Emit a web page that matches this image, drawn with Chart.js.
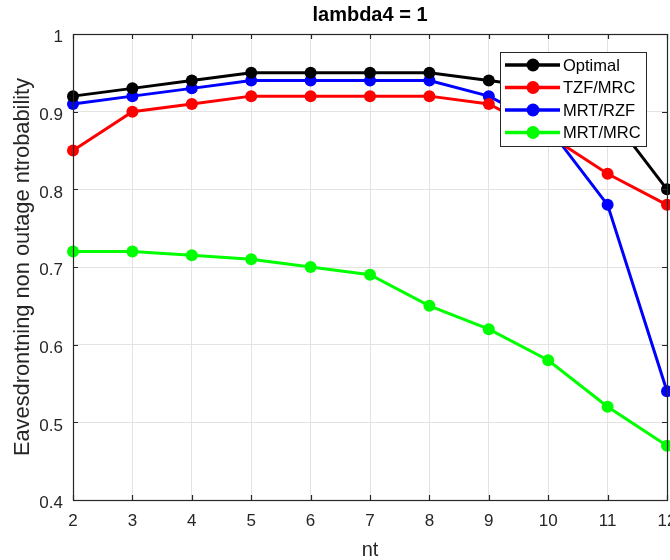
<!DOCTYPE html>
<html>
<head>
<meta charset="utf-8">
<script src="https://cdn.jsdelivr.net/npm/chart.js@4.4.1/dist/chart.umd.min.js"></script>
<style>
html,body{margin:0;padding:0;background:#fff;overflow:hidden;}
#wrap{width:700px;height:560px;position:relative;}
</style>
</head>
<body>
<div id="wrap"><canvas id="c" width="700" height="560"></canvas></div>
<script>
const nt = [2, 3, 4, 5, 6, 7, 8, 9, 10, 11, 12];
const optimal = [0.92, 0.93, 0.94, 0.95, 0.95, 0.95, 0.95, 0.94, 0.93, 0.90, 0.80];
const tzfMrc  = [0.85, 0.90, 0.91, 0.92, 0.92, 0.92, 0.92, 0.91, 0.87, 0.82, 0.78];
const mrtRzf  = [0.91, 0.92, 0.93, 0.94, 0.94, 0.94, 0.94, 0.92, 0.88, 0.78, 0.54];
const mrtMrc  = [0.72, 0.72, 0.715, 0.71, 0.70, 0.69, 0.65, 0.62, 0.58, 0.52, 0.47];
const seriesNames = ['Optimal', 'TZF/MRC', 'MRT/RZF', 'MRT/MRC'];
const seriesColors = ['#000000', '#ff0000', '#0000ff', '#00ff00'];
const yTicks = [0.4, 0.5, 0.6, 0.7, 0.8, 0.9, 1];
const titleText = 'lambda4 = 1';
const xTitle = 'nt';
const yTitle = 'Eavesdrontning non outage ntrobability';

const FONT = '"Liberation Sans", Arial, sans-serif';
const allSeries = [optimal, tzfMrc, mrtRzf, mrtMrc];

const datasets = allSeries.map((vals, i) => ({
  label: seriesNames[i],
  data: vals.map((v, k) => ({x: nt[k], y: v})),
  borderColor: seriesColors[i],
  backgroundColor: seriesColors[i],
  pointBackgroundColor: seriesColors[i],
  pointBorderColor: seriesColors[i],
  pointRadius: 6,
  pointBorderWidth: 0,
  borderWidth: 3,
  tension: 0,
  clip: false
}));

const boxPlugin = {
  id: 'boxPlugin',
  afterDraw(chart) {
    const {ctx, chartArea: a, scales} = chart;
    ctx.save();
    ctx.strokeStyle = '#262626';
    ctx.lineWidth = 1.2;
    const tl = 5;
    ctx.beginPath();
    nt.forEach(v => {
      const x = Math.round(scales.x.getPixelForValue(v)) + 0.5;
      ctx.moveTo(x, a.bottom); ctx.lineTo(x, a.bottom - tl);
      ctx.moveTo(x, a.top); ctx.lineTo(x, a.top + tl);
    });
    yTicks.forEach(v => {
      const y = Math.round(scales.y.getPixelForValue(v)) + 0.5;
      ctx.moveTo(a.left, y); ctx.lineTo(a.left + tl, y);
      ctx.moveTo(a.right, y); ctx.lineTo(a.right - tl, y);
    });
    ctx.stroke();
    ctx.strokeRect(Math.round(a.left) + 0.5, Math.round(a.top) + 0.5,
                   Math.round(a.right - a.left), Math.round(a.bottom - a.top));
    // legend
    const lx = a.right - 167, ly = a.top + 18, lw = 146, lh = 94;
    ctx.fillStyle = '#ffffff';
    ctx.fillRect(lx, ly, lw, lh);
    ctx.strokeStyle = '#262626';
    ctx.lineWidth = 1;
    ctx.strokeRect(lx + 0.5, ly + 0.5, lw, lh);
    const rows = [13, 35.5, 58, 80.5];
    chart.data.datasets.forEach((ds, i) => {
      const y = ly + rows[i];
      ctx.strokeStyle = ds.borderColor;
      ctx.lineWidth = 3.5;
      ctx.beginPath();
      ctx.moveTo(lx + 5, y); ctx.lineTo(lx + 60, y);
      ctx.stroke();
      ctx.fillStyle = ds.borderColor;
      ctx.beginPath();
      ctx.arc(lx + 33, y, 6.5, 0, Math.PI * 2);
      ctx.fill();
      ctx.fillStyle = '#000000';
      ctx.font = '16.5px ' + FONT;
      ctx.textBaseline = 'middle';
      ctx.textAlign = 'left';
      ctx.fillText(ds.label, lx + 63, y + 1);
    });
    ctx.restore();
  }
};

new Chart(document.getElementById('c'), {
  type: 'line',
  data: {datasets},
  plugins: [boxPlugin],
  options: {
    responsive: false,
    animation: false,
    layout: {padding: {left: 0, right: 33, top: 0, bottom: 0}},
    plugins: {
      legend: {display: false},
      tooltip: {enabled: false},
      title: {
        display: true,
        text: titleText,
        fullSize: false,
        color: '#000000',
        font: {family: FONT, size: 20, weight: 'bold', lineHeight: 1.2},
        padding: {top: 3.5, bottom: 6.5}
      }
    },
    scales: {
      x: {
        type: 'linear',
        min: 2, max: 12,
        afterBuildTicks(s) { s.ticks = nt.map(v => ({value: v})); },
        afterFit(s) { s.height = 60; },
        ticks: {color: '#262626', font: {family: FONT, size: 17}, padding: 11, maxRotation: 0,
                callback: v => String(v)},
        grid: {color: '#e3e3e3', drawTicks: false, lineWidth: 1},
        border: {display: false},
        title: {display: true, text: xTitle, color: '#262626',
                font: {family: FONT, size: 20, lineHeight: 1}, padding: {top: 0, bottom: 0}}
      },
      y: {
        type: 'linear',
        min: 0.4, max: 1,
        afterBuildTicks(s) { s.ticks = yTicks.map(v => ({value: v})); },
        afterFit(s) { s.width = 73; },
        ticks: {color: '#262626', font: {family: FONT, size: 17}, padding: 10, labelOffset: 3.5,
                callback: v => String(Math.round(v * 10) / 10)},
        grid: {color: '#e3e3e3', drawTicks: false, lineWidth: 1},
        border: {display: false},
        title: {display: true, text: yTitle, color: '#262626',
                font: {family: FONT, size: 21.8, lineHeight: 1.2}, padding: {top: 10, bottom: 0}}
      }
    }
  }
});
</script>
</body>
</html>
